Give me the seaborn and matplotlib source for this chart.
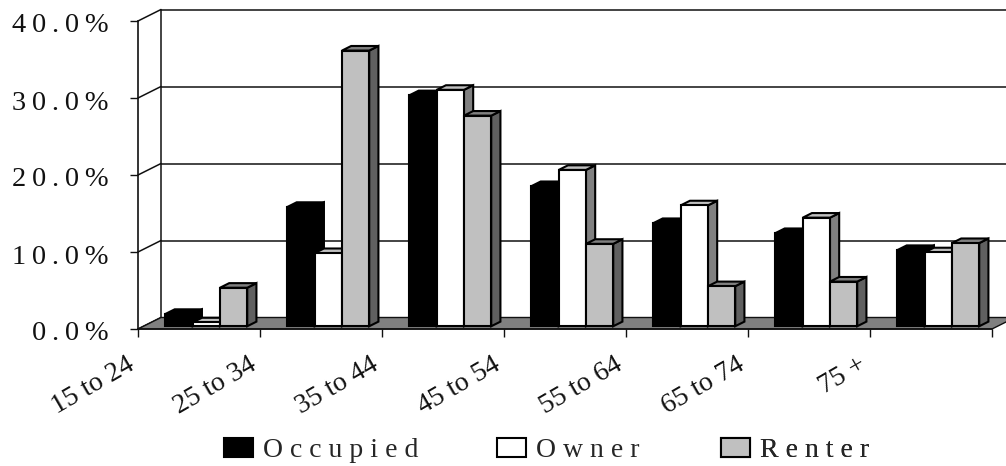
import numpy as np
import pandas as pd
import seaborn as sns
import matplotlib
matplotlib.use("Agg")
import matplotlib.pyplot as plt
from matplotlib.patches import Polygon
from matplotlib.transforms import Affine2D, ScaledTranslation

age_groups = ["15 to 24", "25 to 34", "35 to 44", "45 to 54", "55 to 64", "65 to 74", "75 +"]
occupied = [1.6, 15.5, 30.0, 18.2, 13.4, 12.1, 9.9]
owner = [0.5, 9.5, 30.7, 20.3, 15.7, 14.1, 9.6]
renter = [5.0, 35.8, 27.35, 10.7, 5.2, 5.8, 10.8]
y_ticks = [0, 10, 20, 30, 40]

sns.set_style("white")
plt.rcParams["font.family"] = ["Liberation Serif", "DejaVu Serif"]

frame = pd.DataFrame({
    "age": age_groups * 3,
    "tenure": ["Occupied"] * 7 + ["Owner"] * 7 + ["Renter"] * 7,
    "share": occupied + owner + renter,
})

W, H = 1006, 466
fig = plt.figure(figsize=(W / 100, H / 100), dpi=100)
ax = fig.add_axes([138 / W, 1 - 329 / H, 854 / W, 308 / H])

front = ["#000000", "#ffffff", "#c0c0c0"]
sides = ["#000000", "#808080", "#606060"]
tops = ["#000000", "#c0c0c0", "#808080"]
edge = 1.5

sns.barplot(data=frame, x="age", y="share", hue="tenure", order=age_groups,
            palette=front, width=0.67, gap=0, edgecolor="black", linewidth=edge,
            saturation=1, ax=ax)
ax.set_xlim(-0.5, 6.5)
ax.set_ylim(0, 40)

# Oblique depth of the chart box, in data units
wall_dx, wall_dy = 23 / 122, 11.5 / 7.7
near, bar_depth = 0.32, 0.4
line = dict(color="#111111", lw=1.1, clip_on=False)

# Back wall, gridlines and the diagonal links to the value axis
for v in y_ticks:
    if v > 0:
        ax.plot([-0.5 + wall_dx, 6.5 + wall_dx], [v + wall_dy] * 2, zorder=1, **line)
    ax.plot([-0.5, -0.5 + wall_dx], [v, v + wall_dy], zorder=1, **line)
ax.plot([-0.5 + wall_dx] * 2, [wall_dy, 40 + wall_dy], zorder=1, **line)

# Floor
ax.add_patch(Polygon([(-0.5, 0), (6.5, 0), (6.5 + wall_dx, wall_dy), (-0.5 + wall_dx, wall_dy)],
                     closed=True, fc="#808080", ec="#111111", lw=1.0, zorder=1.5, clip_on=False))

# Shift each bar back onto the floor and extrude its top and side faces
shift = Affine2D().translate(near * wall_dx, near * wall_dy * 0.75) + ax.transData
ddx, ddy = bar_depth * wall_dx, bar_depth * wall_dy
for k, container in enumerate(ax.containers):
    z = 3 + k
    for bar in container:
        bar.set_transform(shift)
        bar.set_zorder(z + 0.5)
        bar.set_clip_on(False)
        x0, x1, h = bar.get_x(), bar.get_x() + bar.get_width(), bar.get_height()
        for pts, col in (
            ([(x1, 0), (x1 + ddx, ddy), (x1 + ddx, h + ddy), (x1, h)], sides[k]),
            ([(x0, h), (x0 + ddx, h + ddy), (x1 + ddx, h + ddy), (x1, h)], tops[k]),
        ):
            ax.add_patch(Polygon(pts, closed=True, fc=col, ec="black", lw=edge, zorder=z,
                                 transform=shift, clip_on=False))

sns.despine(ax=ax, top=True, right=True)
for s in ("left", "bottom"):
    ax.spines[s].set_color("#111111")
    ax.spines[s].set_linewidth(1.2)
    ax.spines[s].set_zorder(2)

ax.set_xlabel("")
ax.set_ylabel("")
ax.set_yticks(y_ticks, ["\u2009".join(f"{v:.1f}%") for v in y_ticks], fontsize=20.5)
ax.set_xticks(np.arange(8) - 0.5, age_groups + [""], rotation=30, ha="right",
              rotation_mode="anchor", fontsize=20)
ax.tick_params(axis="y", left=True, length=6, width=1.0, color="#111111", pad=15, labelcolor="#111111")
ax.tick_params(axis="x", bottom=True, length=6, width=1.0, color="#111111", pad=11, labelcolor="#111111")
nudge_x = ScaledTranslation(-12 / 100, 0, fig.dpi_scale_trans)
for lab in ax.get_xticklabels():
    lab.set_transform(lab.get_transform() + nudge_x)
nudge_y = ScaledTranslation(0, -2 / 100, fig.dpi_scale_trans)
for lab in ax.get_yticklabels():
    lab.set_transform(lab.get_transform() + nudge_y)

# One legend entry per tenure, spaced along the bottom edge
handles, labels = ax.get_legend_handles_labels()
ax.get_legend().remove()
legend_left = [224, 497, 721]
for handle, label, left in zip(handles, labels, legend_left):
    entry = ax.legend([handle], [" ".join(label)], loc="lower left",
                      bbox_to_anchor=(left / W, 1 - 463 / H), bbox_transform=fig.transFigure,
                      frameon=False, fontsize=20, handlelength=1.04, handleheight=0.65,
                      handletextpad=0.36, borderpad=0, borderaxespad=0)
    ax.add_artist(entry)

fig.savefig("out.png", dpi=100, facecolor="white")
